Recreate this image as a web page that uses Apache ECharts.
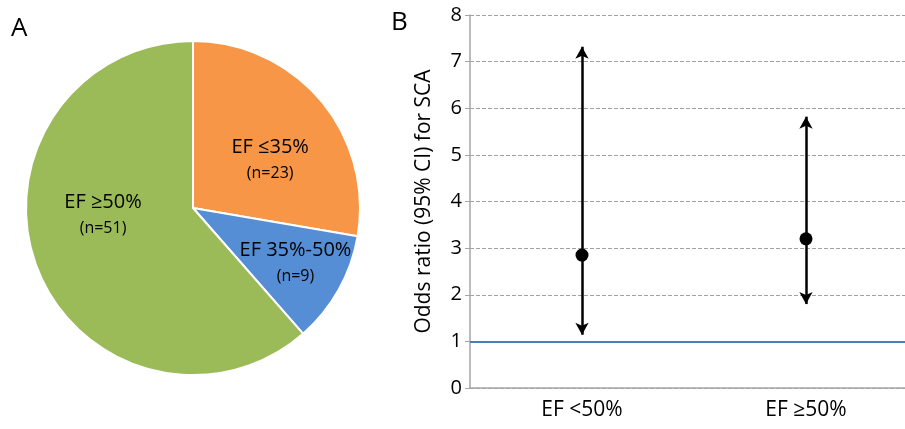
<!DOCTYPE html>
<html>
<head>
    <meta charset="utf-8">
    <style type="text/css">
        html,body { margin: 0px; padding: 0px; background: #fff; }
    </style>
    <script src="https://cdn.jsdelivr.net/npm/echarts@6/dist/echarts.min.js"></script>
</head>
<body>
    <div id="main" style="width: 905px; height: 429px;"></div>
    <script type="text/javascript">
        // panel A: pie
        var pieNames = ['EF ≤35%', 'EF 35%-50%', 'EF ≥50%'];
        var pieCounts = [23, 9, 51];
        var pieColors = ['#f79646', '#558ed5', '#9bbb59'];
        var pieOffsets = [[11, 7], [27, 12], [-9, -24]];

        // panel B: odds ratio with CI
        var groups = ['EF <50%', 'EF ≥50%'];
        var oddsRatio = [2.85, 3.2];
        var ciLow = [1.14, 1.8];
        var ciHigh = [7.32, 5.82];
        var yTicks = [0, 1, 2, 3, 4, 5, 6, 7, 8];

        var font = 'Open Sans';

        var pieData = pieNames.map(function (n, i) {
            return {
                name: n, value: pieCounts[i],
                itemStyle: { color: pieColors[i] },
                label: { offset: pieOffsets[i] }
            };
        });

        var ciLines = groups.map(function (g, i) {
            return [{ coord: [g, ciLow[i]] }, { coord: [g, ciHigh[i]] }];
        });

        var myChart = echarts.init(document.getElementById('main'));
        var option = {
            animation: false,
            textStyle: { fontFamily: font },
            graphic: [
                { type: 'text', left: 11, top: 16, style: { text: 'A', font: '26px ' + font, fill: '#000' } },
                { type: 'text', left: 391, top: 10, style: { text: 'B', font: '26px ' + font, fill: '#000' } }
            ],
            grid: { left: 470, top: 15, width: 448, height: 373, outerBoundsMode: 'none', containLabel: false },
            xAxis: {
                type: 'category',
                data: groups,
                axisLine: { lineStyle: { color: '#a6a6a6', width: 1.5 } },
                axisTick: { length: 5, lineStyle: { color: '#a6a6a6' } },
                axisLabel: { color: '#000', fontSize: 21, margin: 12, fontFamily: font }
            },
            yAxis: {
                type: 'value', min: 0, max: 8, interval: 1,
                name: 'Odds ratio (95% CI) for SCA',
                nameLocation: 'middle', nameGap: 35,
                nameTextStyle: { fontSize: 21, color: '#000', fontFamily: font },
                axisLine: { show: true, lineStyle: { color: '#a6a6a6', width: 1.5 } },
                axisTick: { show: true, length: 5, lineStyle: { color: '#a6a6a6' } },
                axisLabel: { color: '#000', fontSize: 20, margin: 8, fontFamily: font,
                    formatter: function (v) { return yTicks.indexOf(v) >= 0 ? String(v) : ''; } },
                splitLine: { lineStyle: { color: '#a0a0a0', type: [4, 2], width: 1 } }
            },
            series: [
                {
                    type: 'pie',
                    center: [193, 208],
                    radius: 167,
                    startAngle: 90,
                    clockwise: true,
                    data: pieData,
                    itemStyle: { borderColor: '#fff', borderWidth: 2 },
                    label: {
                        position: 'inside',
                        formatter: function (p) { return '{a|' + p.name + '}\n{b|(n=' + p.value + ')}'; },
                        rich: {
                            a: { fontSize: 20, color: '#000', fontFamily: font, lineHeight: 28 },
                            b: { fontSize: 16, color: '#000', fontFamily: font, lineHeight: 24 }
                        }
                    },
                    labelLine: { show: false },
                    emphasis: { disabled: true }
                },
                {
                    type: 'scatter',
                    data: oddsRatio,
                    symbol: 'circle',
                    symbolSize: 13,
                    itemStyle: { color: '#000', opacity: 1 },
                    z: 5,
                    markLine: {
                        silent: true,
                        symbol: ['arrow', 'arrow'],
                        symbolSize: [10, 12],
                        label: { show: false },
                        lineStyle: { color: '#000', width: 2.5, type: 'solid' },
                        data: ciLines
                    }
                },
                {
                    type: 'line',
                    data: [],
                    markLine: {
                        silent: true,
                        symbol: ['none', 'none'],
                        label: { show: false },
                        lineStyle: { color: '#4a7ebb', width: 2, type: 'solid' },
                        data: [{ yAxis: 1 }]
                    }
                }
            ]
        };
        myChart.setOption(option);
    </script>
</body>
</html>
